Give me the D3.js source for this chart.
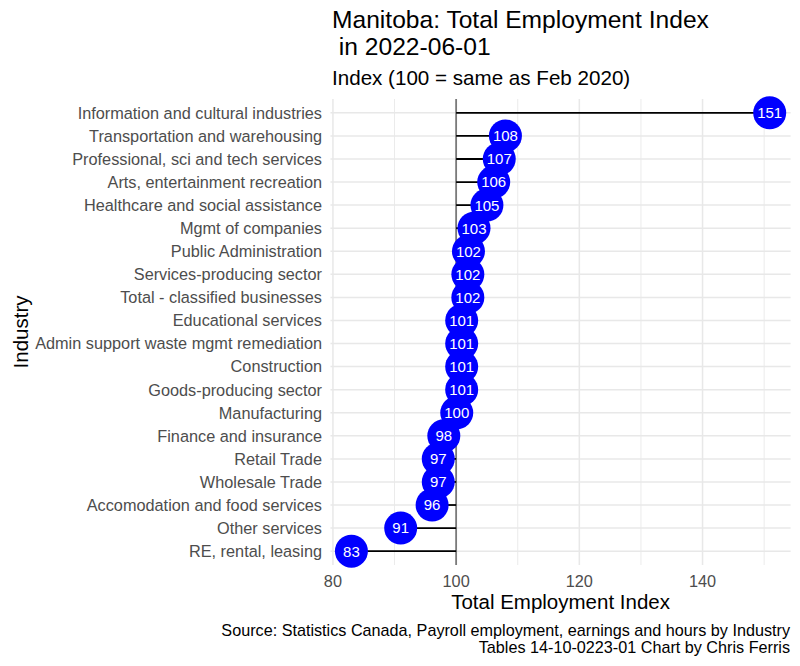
<!DOCTYPE html>
<html><head><meta charset="utf-8">
<script src="https://cdn.jsdelivr.net/npm/d3@7"></script>
<style>body{margin:0;background:#fff}svg{font-family:"Liberation Sans",Arial,sans-serif}</style>
</head><body><svg id="c" width="800" height="666"></svg>
<script>
const industries = ["Information and cultural industries","Transportation and warehousing","Professional, sci and tech services","Arts, entertainment recreation","Healthcare and social assistance","Mgmt of companies","Public Administration","Services-producing sector","Total - classified businesses","Educational services","Admin support waste mgmt remediation","Construction","Goods-producing sector","Manufacturing","Finance and insurance","Retail Trade","Wholesale Trade","Accomodation and food services","Other services","RE, rental, leasing"];
const values = [150.9,108.0,107.0,106.1,105.0,102.9,102.0,101.9,101.9,100.9,100.9,100.9,100.9,100.1,98.0,97.1,97.1,96.1,91.0,83.0];
const xTicks = [80,100,120,140];
const xMinor = [90,110,130,150];

const svg = d3.select("#c");
const L=330.5, R=790.6, T=99, B=565;
const lo=d3.min(values), hi=d3.max(values), pad=(hi-lo)*0.05;
const x=d3.scaleLinear().domain([lo-pad,hi+pad]).range([L,R]);
const y=d3.scalePoint().domain(industries).range([T,B]).padding(0.6);

const g=svg.append("g");
g.selectAll(".mn").data(xMinor).join("line").attr("x1",d=>x(d)).attr("x2",d=>x(d)).attr("y1",T).attr("y2",B).attr("stroke","#ebebeb").attr("stroke-width",1);
g.selectAll(".mj").data(xTicks).join("line").attr("x1",d=>x(d)).attr("x2",d=>x(d)).attr("y1",T).attr("y2",B).attr("stroke","#e8e8e8").attr("stroke-width",1.5);
g.selectAll(".hy").data(industries).join("line").attr("x1",L).attr("x2",R).attr("y1",d=>y(d)).attr("y2",d=>y(d)).attr("stroke","#e8e8e8").attr("stroke-width",1.5);

g.append("line").attr("x1",x(100)).attr("x2",x(100)).attr("y1",T).attr("y2",B).attr("stroke","#7a7a7a").attr("stroke-width",1.8);

g.selectAll(".seg").data(industries).join("line")
 .attr("x1",x(100)).attr("x2",(d,i)=>x(values[i])).attr("y1",d=>y(d)).attr("y2",d=>y(d))
 .attr("stroke","#000").attr("stroke-width",1.8);

g.selectAll(".pt").data(industries).join("circle")
 .attr("cx",(d,i)=>x(values[i])).attr("cy",d=>y(d)).attr("r",16.5).attr("fill","#0000ff");
g.selectAll(".lb").data(industries).join("text")
 .attr("x",(d,i)=>x(values[i])).attr("y",d=>y(d)).attr("dy","0.36em").attr("text-anchor","middle")
 .attr("fill","#fff").attr("font-size",15).text((d,i)=>Math.round(values[i]));

g.selectAll(".yl").data(industries).join("text")
 .attr("x",322).attr("y",d=>y(d)).attr("dy","0.36em").attr("text-anchor","end")
 .attr("fill","#4d4d4d").attr("font-size",16.3).text(d=>d);
g.selectAll(".xl").data(xTicks).join("text")
 .attr("x",d=>x(d)).attr("y",587).attr("text-anchor","middle")
 .attr("fill","#4d4d4d").attr("font-size",16.3).text(d=>d);

svg.append("text").attr("x",(L+R)/2).attr("y",609).attr("text-anchor","middle").attr("font-size",20.5).text("Total Employment Index");
svg.append("text").attr("transform",`translate(28,${(T+B)/2}) rotate(-90)`).attr("text-anchor","middle").attr("font-size",20.5).text("Industry");

svg.append("text").attr("x",332).attr("y",28).attr("font-size",24.6).text("Manitoba: Total Employment Index");
svg.append("text").attr("x",332).attr("y",55).attr("font-size",24.6).attr("xml:space","preserve").text(" in 2022-06-01");
svg.append("text").attr("x",332).attr("y",85).attr("font-size",20.6).text("Index (100 = same as Feb 2020)");

svg.append("text").attr("x",790).attr("y",636).attr("text-anchor","end").attr("font-size",16.2).text("Source: Statistics Canada, Payroll employment, earnings and hours by Industry");
svg.append("text").attr("x",790).attr("y",653).attr("text-anchor","end").attr("font-size",16.2).text("Tables 14-10-0223-01 Chart by Chris Ferris");
</script></body></html>
